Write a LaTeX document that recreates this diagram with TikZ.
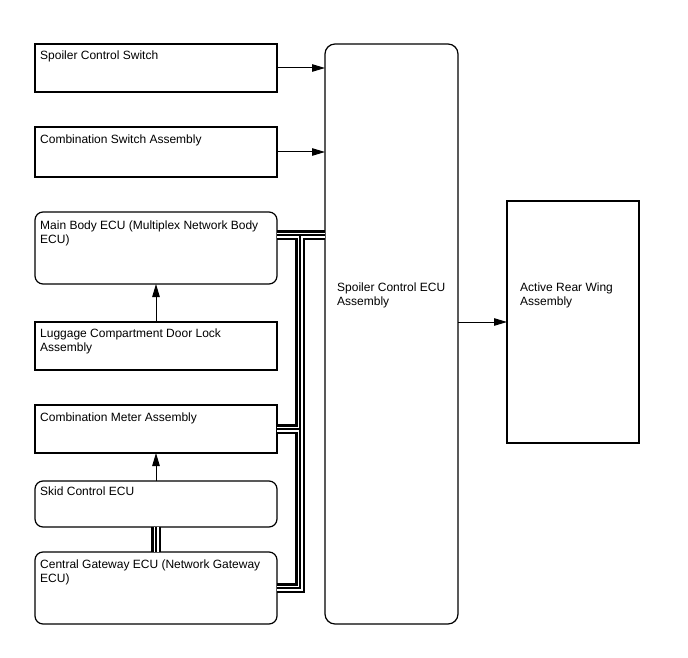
\documentclass[tikz,border=0pt]{standalone}
\usepackage{fontspec}
\setmainfont{Liberation Sans}
\usetikzlibrary{arrows.meta,calc}
\begin{document}
\begin{tikzpicture}[x=1pt,y=-1pt,
  box/.style={draw, line width=1.2pt, inner sep=0pt, outer sep=0pt},
  rbox/.style={box, rounded corners=8pt},
  txt/.style={anchor=north west, inner sep=0pt, align=left, font=\fontsize{12}{14}\selectfont},
  arr/.style={line width=1pt, -{Triangle[length=13pt,width=7.5pt]}}
]
\useasboundingbox (0,0) rectangle (688,658);
% left column
\node[box,  minimum width=242pt, minimum height=48pt] (sw) at (156,68) {};
\node[box,  minimum width=242pt, minimum height=50pt] (cs) at (156,152) {};
\node[rbox, minimum width=242pt, minimum height=72pt] (mb) at (156,248) {};
\node[box,  minimum width=242pt, minimum height=48pt] (lg) at (156,346) {};
\node[box,  minimum width=242pt, minimum height=48pt] (cm) at (156,429) {};
\node[rbox, minimum width=242pt, minimum height=46pt] (sk) at (156,504) {};
\node[rbox, minimum width=242pt, minimum height=72pt] (cg) at (156,588) {};
% right
\node[box, rounded corners=10pt, minimum width=133pt, minimum height=580pt] (ecu) at (391.5,334) {};
\node[box, minimum width=132pt, minimum height=242pt] (arw) at (573,322) {};
% texts
\node[txt] (swt) at ($(sw.north west)+(5,7)$) {Spoiler Control Switch};
\node[txt] (cst) at ($(cs.north west)+(5,8)$) {Combination Switch Assembly};
\node[txt] (mbt) at ($(mb.north west)+(5,9)$) {Main Body ECU (Multiplex Network Body\\ECU)};
\node[txt] (lgt) at ($(lg.north west)+(5,7)$) {Luggage Compartment Door Lock\\Assembly};
\node[txt] (cmt) at ($(cm.north west)+(5,8)$) {Combination Meter Assembly};
\node[txt] (skt) at ($(sk.north west)+(5,6)$) {Skid Control ECU};
\node[txt] (cgt) at ($(cg.north west)+(5,8)$) {Central Gateway ECU (Network Gateway\\ECU)};
\node[txt] (ecut) at (337,283) {Spoiler Control ECU\\Assembly};
\node[txt] (arwt) at (520,283) {Active Rear Wing\\Assembly};
% arrows
\draw[arr] (sw.east) -- (sw.east -| ecu.west);
\draw[arr] (cs.east) -- (cs.east -| ecu.west);
\draw[arr] (arw.west -| ecu.east) -- (arw.west);
\draw[arr] (lg.north) -- (mb.south);
\draw[arr] (sk.north) -- (cm.south);
% bus lines
\coordinate (bmb) at (300,235);
\coordinate (bcm) at (300,429);
\coordinate (bcg) at (300,588);
\foreach \w/\c in {9.5/black,5/white,1.4/black}{
  \draw[line width=\w pt, \c] (mb.east |- bmb) -- (ecu.west |- bmb);
  \draw[line width=\w pt, \c] (bmb) -- (bcg) -- (cg.east);
  \draw[line width=\w pt, \c] (bcm) -- (cm.east);
  \draw[line width=\w pt, \c] (sk.south) -- (cg.north);
}
\end{tikzpicture}
\end{document}
